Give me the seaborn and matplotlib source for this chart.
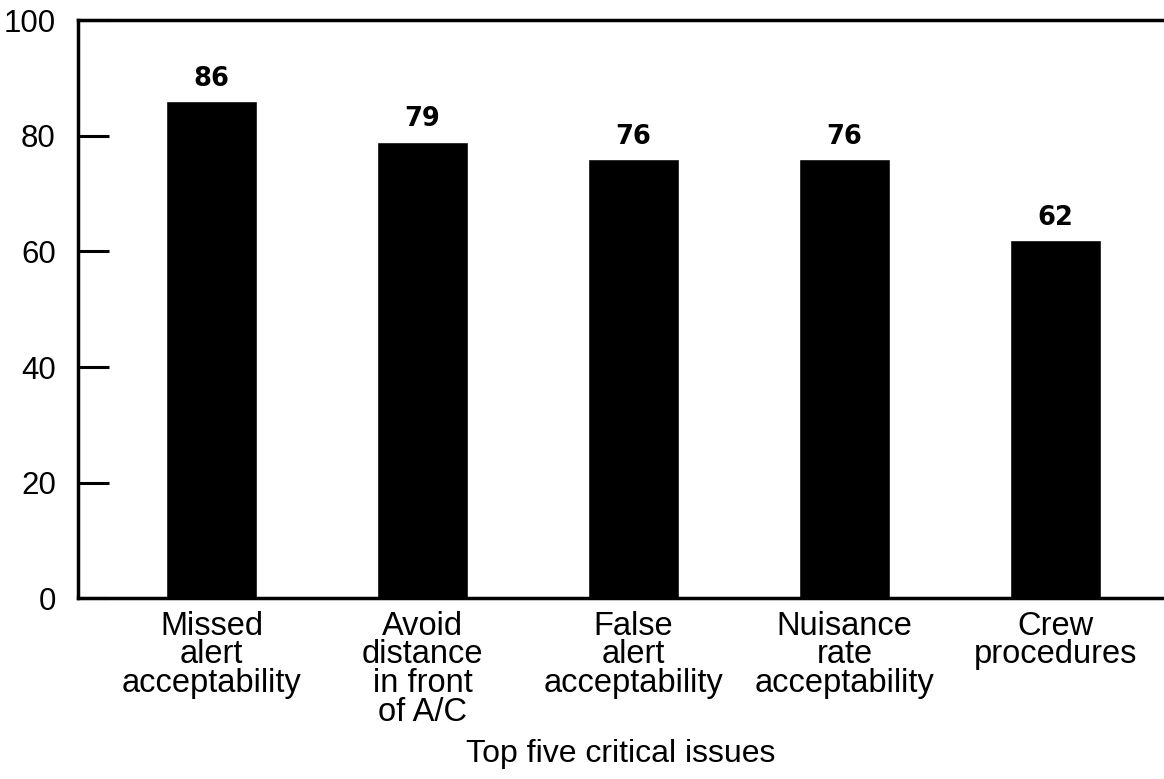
import matplotlib
matplotlib.use("Agg")
import pandas as pd
import matplotlib.pyplot as plt
import seaborn as sns

# 数据
issues = [
    "Missed\nalert\nacceptability",
    "Avoid\ndistance\nin front\nof A/C",
    "False\nalert\nacceptability",
    "Nuisance\nrate\nacceptability",
    "Crew\nprocedures",
]
percent = [86, 79, 76, 76, 62]
y_ticks = [0, 20, 40, 60, 80, 100]

df = pd.DataFrame({"issue": issues, "percent": percent})

sns.set_style("white")
plt.rcParams["font.family"] = ["Liberation Sans", "DejaVu Sans"]
plt.rcParams["text.color"] = "black"
plt.rcParams["axes.labelcolor"] = "black"
plt.rcParams["xtick.color"] = "black"
plt.rcParams["ytick.color"] = "black"

fig = plt.figure(figsize=(11.64, 7.79), dpi=100)
ax = fig.add_axes([0.067, 0.232, 0.933, 0.742])

sns.barplot(data=df, x="issue", y="percent", color="black", width=0.43,
            saturation=1, ax=ax)

# 柱顶数值
for i, v in enumerate(percent):
    ax.text(i, v + 1.6, str(v), ha="center", va="bottom", fontsize=18.5,
            fontweight="bold", family="DejaVu Sans", color="black")

ax.set_ylim(0, 100)
ax.set_xlim(-0.633, 4.514)
ax.set_yticks(y_ticks)
ax.tick_params(axis="y", left=True, direction="in", length=22, width=2.2,
               labelsize=22.5, pad=16, colors="black")
ax.tick_params(axis="x", bottom=False, length=0, labelsize=23.5, pad=9,
               colors="black")
for lab in ax.get_xticklabels():
    lab.set_linespacing(0.9)

for side in ["left", "top", "bottom"]:
    ax.spines[side].set_linewidth(2.5)
    ax.spines[side].set_color("black")
ax.spines["right"].set_visible(False)

ax.set_ylabel("")
ax.set_xlabel("Top five critical issues", fontsize=23, labelpad=8)

plt.savefig("out.png", dpi=100)
plt.close("all")
